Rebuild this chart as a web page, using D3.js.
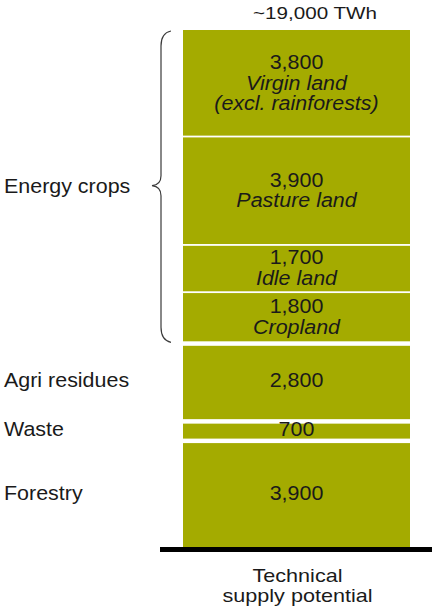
<!DOCTYPE html>
<html>
<head>
<meta charset="utf-8">
<script src="https://cdn.jsdelivr.net/npm/d3@7"></script>
<style>
  html, body { margin: 0; padding: 0; background: #ffffff; }
  svg { display: block; }
  text { font-family: "Liberation Sans", Arial, sans-serif; fill: #1a1a1a; }
</style>
</head>
<body>
<script>
// ---- Data (bottom to top) ----
const segments   = ["Forestry", "Waste", "Agri residues", "Cropland", "Idle land", "Pasture land", "Virgin land"];
const values     = [3900, 700, 2800, 1800, 1700, 3900, 3800];
const subLabels  = [[], [], [], ["Cropland"], ["Idle land"], ["Pasture land"], ["Virgin land", "(excl. rainforests)"]];
const groups     = ["Forestry", "Waste", "Agri residues", "Energy crops", "Energy crops", "Energy crops", "Energy crops"];
const totalLabel = "~19,000 TWh";
const xCategory  = ["Technical", "supply potential"];

const W = 432, H = 611;
const barColor = "#a4ab00";
const SX = 1.1; // horizontal stretch of text in the reference
const FS = 19.5;

const svg = d3.select("body").append("svg").attr("width", W).attr("height", H);

// stacked
let acc = 0;
const stacked = values.map((v, i) => {
  const d = { name: segments[i], value: v, group: groups[i], sub: subLabels[i], y0: acc, y1: acc + v, i };
  acc += v;
  return d;
});
const total = acc;

const y = d3.scaleLinear().domain([0, total]).range([547, 30]);
const x = d3.scaleBand().domain(["Technical supply potential"]).range([183, 410]).padding(0);

const fmt = d3.format(",");

// bars
stacked.forEach((d, i) => {
  const above = stacked[i + 1];
  let gap = 0;
  if (above) gap = above.group === d.group ? 1.8 : 4.5;
  d.top = y(d.y1) + gap;
  d.bottom = y(d.y0);
  d.center = (y(d.y1) + y(d.y0)) / 2;
});

svg.append("g").selectAll("rect").data(stacked).join("rect")
  .attr("x", x("Technical supply potential"))
  .attr("width", x.bandwidth())
  .attr("y", d => d.top)
  .attr("height", d => d.bottom - d.top)
  .attr("fill", barColor);

// text helper
function stretchedText(g, str, tx, ty, size, anchor, italic, sx) {
  g.append("text")
    .attr("transform", `translate(${tx},${ty}) scale(${sx || SX},1)`)
    .attr("text-anchor", anchor)
    .attr("font-size", size)
    .attr("font-style", italic ? "italic" : "normal")
    .text(str);
}

const cx = x("Technical supply potential") + x.bandwidth() / 2;
const labelsG = svg.append("g");
const lineH = 20.5;
stacked.forEach(d => {
  const lines = [{ t: fmt(d.value), it: false }].concat(d.sub.map(s => ({ t: s, it: true })));
  const n = lines.length;
  const first = d.center - (n - 1) * lineH / 2 + 7;
  lines.forEach((l, k) => stretchedText(labelsG, l.t, cx, first + k * lineH, FS, "middle", l.it));
});

// left group labels
const groupNames = Array.from(new Set(groups));
const groupG = svg.append("g");
groupNames.forEach(gn => {
  const segs = stacked.filter(d => d.group === gn);
  const top = y(d3.max(segs, d => d.y1));
  const bot = y(d3.min(segs, d => d.y0));
  const c = (top + bot) / 2;
  stretchedText(groupG, gn, 4, c + 7, FS, "start", false);
  if (segs.length > 1) {
    // curly brace
    const xb = 161, tip = 152, xe = 171;
    const p = d3.path();
    p.moveTo(xe, top + 1);
    p.quadraticCurveTo(xb, top + 3, xb, top + 16);
    p.lineTo(xb, c - 10);
    p.quadraticCurveTo(xb, c - 1, tip, c);
    p.quadraticCurveTo(xb, c + 1, xb, c + 10);
    p.lineTo(xb, bot - 14);
    p.quadraticCurveTo(xb, bot - 1, xe, bot + 1);
    groupG.append("path").attr("d", p.toString())
      .attr("fill", "none").attr("stroke", "#3a3a3a").attr("stroke-width", 1.2);
  }
});

// total label
stretchedText(svg, totalLabel, 315, 19, 16.5, "middle", false, 1.25);

// baseline
svg.append("line")
  .attr("x1", 160).attr("x2", W)
  .attr("y1", y(0) + 2.5).attr("y2", y(0) + 2.5)
  .attr("stroke", "#000").attr("stroke-width", 5);

// category label
xCategory.forEach((t, k) => stretchedText(svg, t, cx + 1, 581.5 + k * 20.5, 18, "middle", false, 1.2));
</script>
</body>
</html>
